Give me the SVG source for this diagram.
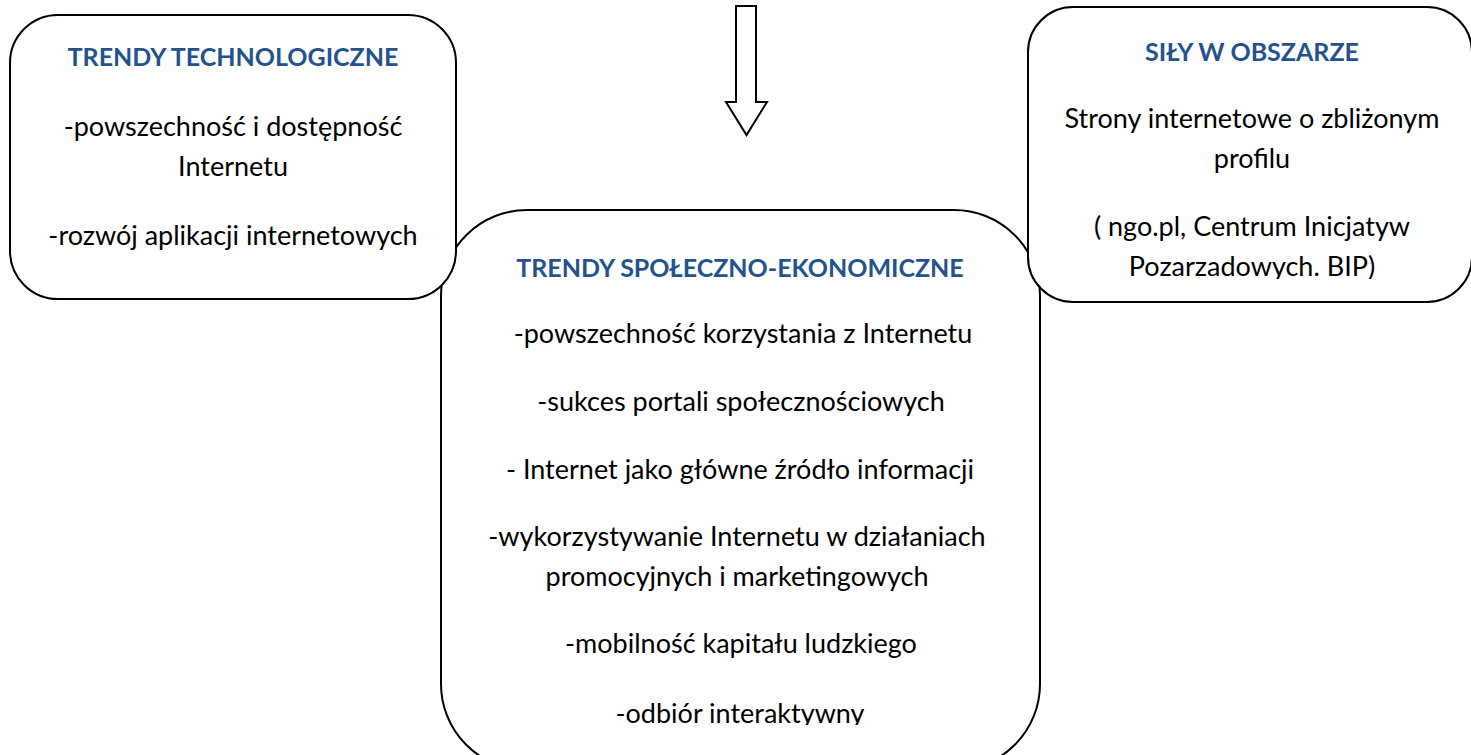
<svg xmlns="http://www.w3.org/2000/svg" width="1471" height="755" viewBox="0 0 1471 755">
<style>
.box{fill:#fff;stroke:#000;stroke-width:2}
.t{font-family:Lato,"Liberation Sans",sans-serif;font-size:27px;fill:#000;text-anchor:middle}
.h{font-family:Lato,"Liberation Sans",sans-serif;font-size:25px;font-weight:bold;fill:#24528C;text-anchor:middle}
</style>
<defs>
<clipPath id="clipC"><rect x="441" y="210" width="599" height="515"/></clipPath>
<clipPath id="clipR"><rect x="1028" y="7" width="444" height="272"/></clipPath>
</defs>
<g id="connectors">
<polygon class="box" stroke-width="1.5" points="736,6 756,6 756,102 767,102 746.5,135 726,102 736,102"/>
</g>
<g id="node-spoleczno">
<rect class="box" x="441" y="210" width="599" height="560" rx="86" ry="86"/>
<g clip-path="url(#clipC)">
<text class="h" x="740" y="277">TRENDY SPOŁECZNO-EKONOMICZNE</text>
<text class="t" x="743" y="343">-powszechność korzystania z Internetu</text>
<text class="t" x="741" y="411">-sukces portali społecznościowych</text>
<text class="t" x="740" y="479">- Internet jako główne źródło informacji</text>
<text class="t" x="737" y="546">-wykorzystywanie Internetu w działaniach</text>
<text class="t" x="737" y="586">promocyjnych i marketingowych</text>
<text class="t" x="741" y="653">-mobilność kapitału ludzkiego</text>
<text class="t" x="740" y="723">-odbiór interaktywny</text>
</g>
</g>
<g id="node-technologiczne">
<rect class="box" x="10" y="15" width="446" height="284" rx="48" ry="48"/>
<text class="h" x="233" y="66">TRENDY TECHNOLOGICZNE</text>
<text class="t" x="233" y="136">-powszechność i dostępność</text>
<text class="t" x="233" y="176">Internetu</text>
<text class="t" x="233" y="245">-rozwój aplikacji internetowych</text>
</g>
<g id="node-sily">
<rect class="box" x="1028" y="7" width="444" height="295" rx="45" ry="45"/>
<g clip-path="url(#clipR)">
<text class="h" x="1252" y="61">SIŁY W OBSZARZE</text>
<text class="t" x="1252" y="128">Strony internetowe o zbliżonym</text>
<text class="t" x="1252" y="168">profilu</text>
<text class="t" x="1252" y="236">( ngo.pl, Centrum Inicjatyw</text>
<text class="t" x="1252" y="276">Pozarzadowych. BIP)</text>
</g>
</g>
</svg>
